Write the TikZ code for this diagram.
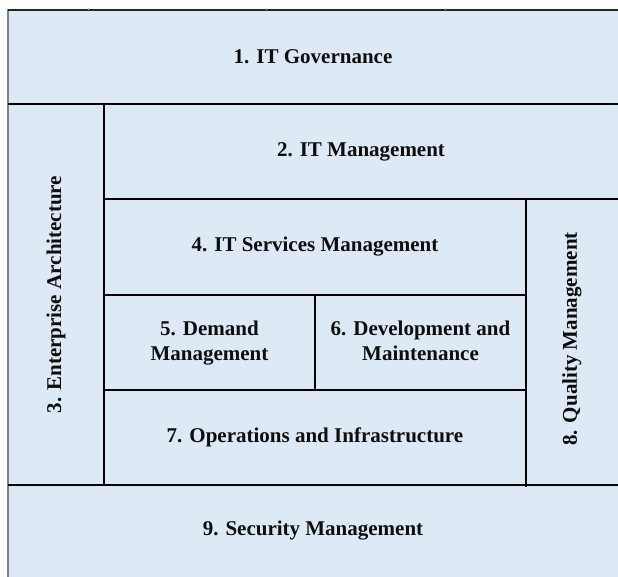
\documentclass[tikz,border=0pt]{standalone}
\usepackage{fontspec}
\setmainfont{Liberation Serif}
\usepackage{tikz}
\usetikzlibrary{positioning}
\definecolor{cellblue}{HTML}{DDEAF6}

\begin{document}
\begin{tikzpicture} [x=1pt, y=-1pt, line width=2.2pt, label/.style ={font=\bfseries\fontsize{21}{25}\selectfont, text=black!95, align=center, inner sep=0pt}]
		\useasboundingbox (0,0) rectangle (618,577);
		\fill[cellblue] (8,10) rectangle (618,577);
		% frame
		\draw[gray, line width=1.6pt] (8,9) -- (8,577);
		\draw[black!85, line width=1.4pt] (8,10) -- (618,10);
		\foreach \x in {88,266,445}
			\draw[black!25, line width=0.8pt] (\x,8) -- (\x,10);
		% grid lines
		\draw (8,104) -- (618,104);
		\draw (104,104) -- (104,485);
		\draw (104,199) -- (618,199);
		\draw (526,199) -- (526,487);
		\draw (104,295) -- (526,295);
		\draw (315,295) -- (315,390);
		\draw (104,390) -- (526,390);
		\draw (8,485) -- (618,485);
		% labels
		\node[label] (Gov) at (313,57) {1. IT Governance};
		\node[label] (Mgmt) at (361,152) {2. IT Management};
		\node[label, rotate=90] (EA) at (56,294.5) {3. Enterprise Architecture};
		\node[label] (ITSM) at (315,247) {4. IT Services Management};
		\node[label, text depth=5pt] (Demand) at (209.5,343) {5. Demand\\Management};
		\node[label, text depth=5pt] (Dev) at (420.5,343) {6. Development and\\Maintenance};
		\node[label] (Ops) at (315,437.5) {7. Operations and Infrastructure};
		\node[label, rotate=90] (QM) at (572,339) {8. Quality Management};
		\node[label] (Sec) at (313,531) {9. Security Management};
	\end{tikzpicture}
\end{document}
